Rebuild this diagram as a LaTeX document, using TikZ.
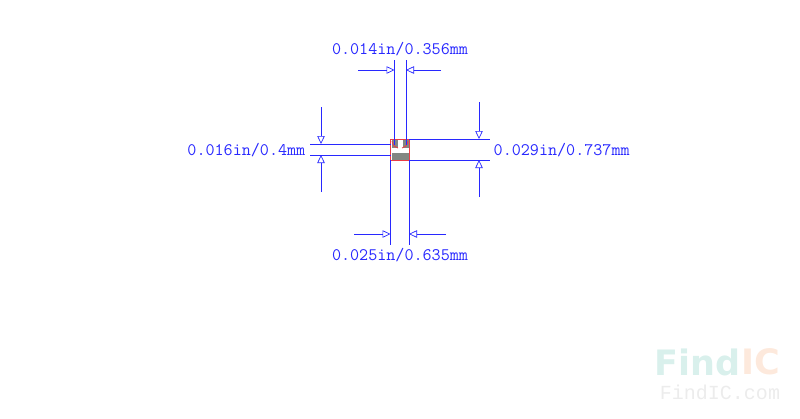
\documentclass[tikz,border=0pt]{standalone}
\usepackage{fontspec}
\usepackage{tikz}
\usetikzlibrary{positioning,arrows.meta,calc}
\newfontfamily\markfont{DejaVu Sans}
\newfontfamily\urlfont{Liberation Mono}
\definecolor{dimblue}{RGB}{40,40,255}
\definecolor{partred}{RGB}{235,60,70}
\definecolor{padgray}{RGB}{130,135,130}
\definecolor{markteal}{RGB}{217,240,236}
\definecolor{markorange}{RGB}{253,233,220}
\definecolor{markgray}{RGB}{236,236,236}
\tikzset{
		>={Triangle[open,length=8pt,width=7.5pt]},
		dimline/.style={draw=dimblue, line width=.7pt},
		dimarrow/.style={dimline, ->},
		dimlabel/.style={
			text=dimblue,
			inner sep=0pt,
			font=\ttfamily\fontsize{17.6}{20}\selectfont},
		padbox/.style={fill=padgray, draw=none},
		partbox/.style={draw=partred, line width=1pt},
	}
\begin{document}
\begin{tikzpicture}[x=1pt,y=-1pt]
	\useasboundingbox (0,0) rectangle (800,418);
	%% part
	\fill[padbox] (392,139.5) rectangle (397.5,148);
	\fill[padbox] (403,139.5) rectangle (408.5,148);
	\fill[padbox] (392,153) rectangle (408.5,159.5);
	\draw[partred, line width=.8pt] (392,141) .. controls (393,146) and (395,147.5) .. (398,148);
	\draw[partred, line width=.8pt] (408,141) .. controls (407,146) and (405,147.5) .. (402,148);
	\node[partbox, minimum width=18.5pt, minimum height=21pt, inner sep=0pt] (part) at (400.2,149.5) {};

	%% No. 1 top
	\coordinate (topa) at (394.5,60);
	\coordinate (topb) at (394.5,145);
	\coordinate (topc) at (406,60);
	\coordinate (topd) at (406,145);
	\coordinate (topl) at (358,70);
	\coordinate (topm) at (394.5,70);
	\coordinate (topn) at (441,70);
	\coordinate (topo) at (406,70);
	\draw[dimline] (topa) -- (topb);
	\draw[dimline] (topc) -- (topd);
	\draw[dimarrow] (topl) -- (topm);
	\draw[dimarrow] (topn) -- (topo);
	\node[dimlabel] (toplabel) at (400,49) {0.014in/0.356mm};

	%% No. 2 left
	\coordinate (lefta) at (310,144);
	\coordinate (leftb) at (391,144);
	\coordinate (leftc) at (310,155);
	\coordinate (leftd) at (391,155);
	\coordinate (leftl) at (321,107);
	\coordinate (leftm) at (321,144);
	\coordinate (leftn) at (321,192);
	\coordinate (lefto) at (321,155);
	\draw[dimline] (lefta) -- (leftb);
	\draw[dimline] (leftc) -- (leftd);
	\draw[dimarrow] (leftl) -- (leftm);
	\draw[dimarrow] (leftn) -- (lefto);
	\node[dimlabel, anchor=east] (leftlabel) at (305.5,150) {0.016in/0.4mm};

	%% No. 3 right
	\coordinate (righta) at (409,139);
	\coordinate (rightb) at (490,139);
	\coordinate (rightc) at (409,160);
	\coordinate (rightd) at (490,160);
	\coordinate (rightl) at (479,102);
	\coordinate (rightm) at (479,139);
	\coordinate (rightn) at (479,197);
	\coordinate (righto) at (479,160);
	\draw[dimline] (righta) -- (rightb);
	\draw[dimline] (rightc) -- (rightd);
	\draw[dimarrow] (rightl) -- (rightm);
	\draw[dimarrow] (rightn) -- (righto);
	\node[dimlabel, anchor=west] (rightlabel) at (493.5,150) {0.029in/0.737mm};

	%% No. 4 bottom
	\coordinate (bota) at (390.5,160);
	\coordinate (botb) at (390.5,245);
	\coordinate (botc) at (409,160);
	\coordinate (botd) at (409,245);
	\coordinate (botl) at (354,234);
	\coordinate (botm) at (390.5,234);
	\coordinate (botn) at (446,234);
	\coordinate (boto) at (409,234);
	\draw[dimline] (bota) -- (botb);
	\draw[dimline] (botc) -- (botd);
	\draw[dimarrow] (botl) -- (botm);
	\draw[dimarrow] (botn) -- (boto);
	\node[dimlabel] (botlabel) at (400,255) {0.025in/0.635mm};

	%% watermark
	\node[inner sep=0pt, anchor=east, text=markorange, font=\markfont\bfseries\fontsize{35}{35}\selectfont] (markic) at (780,362) {IC};
	\node[inner sep=0pt, left=0pt of markic, text=markteal, font=\markfont\bfseries\fontsize{35}{35}\selectfont] (markfind) {Find};
	\node[inner sep=0pt, text=markgray, font=\urlfont\fontsize{20}{20}\selectfont] (markurl) at (720,392) {FindIC.com};
\end{tikzpicture}
\end{document}
